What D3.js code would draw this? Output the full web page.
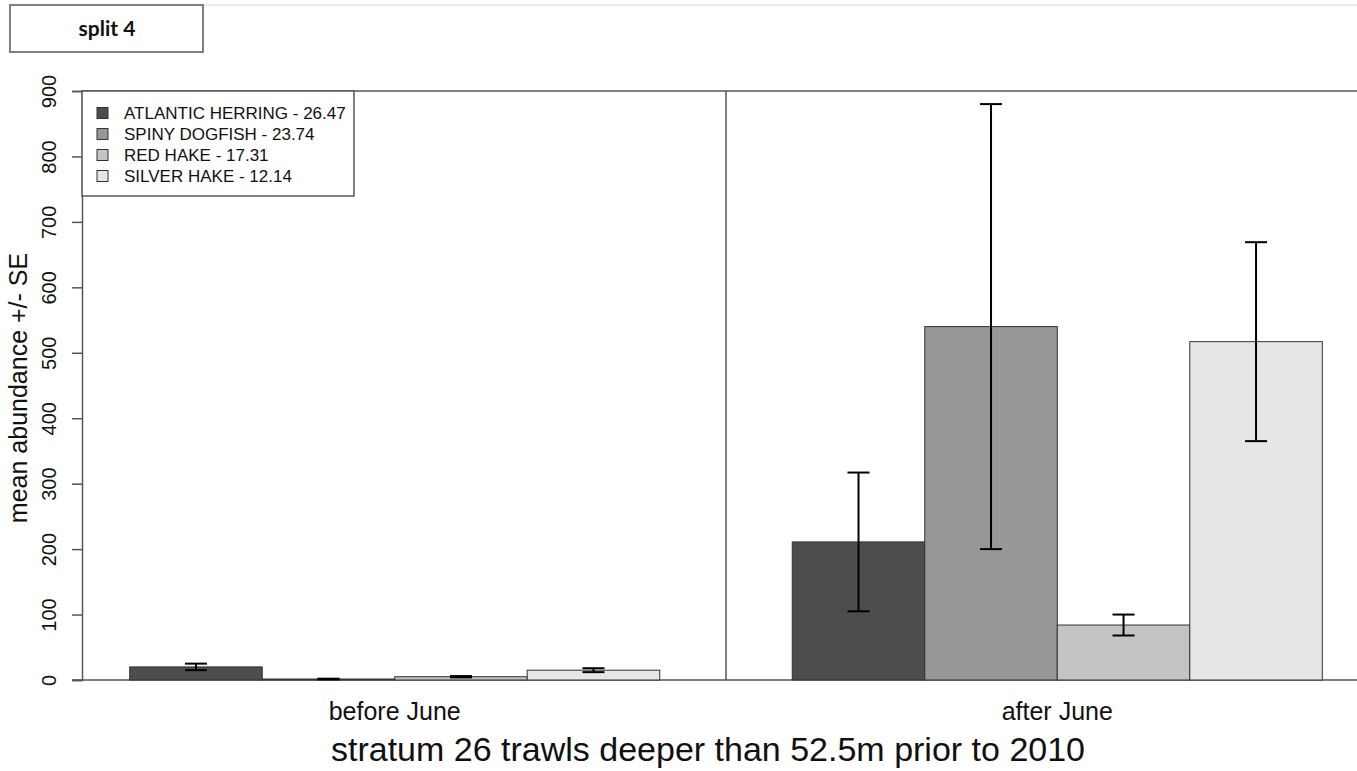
<!DOCTYPE html>
<html lang="en">
<head>
<meta charset="utf-8" />
<title>split 4</title>
<script src="https://cdn.jsdelivr.net/npm/d3@7/dist/d3.min.js"></script>
<style>
  body { margin: 0; background: #fff; }
  svg { display: block; font-family: "Liberation Sans", Arial, sans-serif; }
</style>
</head>
<body>
<div id="chart"></div>
<script>
// data
var periods = ["before June", "after June"];
var species = ["ATLANTIC HERRING - 26.47", "SPINY DOGFISH - 23.74", "RED HAKE - 17.31", "SILVER HAKE - 12.14"];
var beforeMeans = [20, 1.5, 5, 15];
var beforeSE = [5, 0.5, 1, 3];
var afterMeans = [211, 540, 84, 517];
var afterSE = [106, 340, 16, 152];
var yTicks = [0, 100, 200, 300, 400, 500, 600, 700, 800, 900];
var colors = ["#4D4D4D", "#979797", "#C4C4C4", "#E6E6E6"];

var width = 1357, height = 771;
var plotLeft = 82, plotRight = 1370, plotTop = 91, plotBottom = 680;

var svg = d3.select("#chart").append("svg")
  .attr("width", width)
  .attr("height", height);

// slide header box
svg.append("line")
  .attr("x1", 203).attr("x2", width).attr("y1", 5).attr("y2", 5)
  .attr("stroke", "#d9d9d9").attr("stroke-width", 1);
svg.append("rect")
  .attr("x", 10).attr("y", 5).attr("width", 193).attr("height", 47)
  .attr("fill", "#fff").attr("stroke", "#7f7f7f").attr("stroke-width", 2);
svg.append("text")
  .attr("x", 107).attr("y", 36)
  .attr("text-anchor", "middle")
  .style("font-family", "Lato, 'Open Sans', sans-serif")
  .style("font-weight", "bold").style("font-size", "21px")
  .attr("fill", "#111")
  .text("split 4");

// bar positions like R barplot(beside=TRUE): group 1 at 1..5, group 2 at 6..10
var x = d3.scaleLinear().domain([0.64, 10.36]).range([plotLeft, plotRight]);
var y = d3.scaleLinear().domain([0, 900]).range([plotBottom, plotTop]);

var bars = [];
[beforeMeans, afterMeans].forEach(function(means, g) {
  var ses = g === 0 ? beforeSE : afterSE;
  means.forEach(function(m, i) {
    bars.push({ g: g, i: i, pos: 1 + g * 5 + i, mean: m, se: ses[i] });
  });
});

// axes lines
svg.append("line")
  .attr("x1", plotLeft).attr("x2", width).attr("y1", plotTop).attr("y2", plotTop)
  .attr("stroke", "#555").attr("stroke-width", 1.5);
svg.append("line")
  .attr("x1", plotLeft - 10).attr("x2", width).attr("y1", plotBottom).attr("y2", plotBottom)
  .attr("stroke", "#555").attr("stroke-width", 1.5);
svg.append("line")
  .attr("x1", x(5.5)).attr("x2", x(5.5)).attr("y1", plotTop).attr("y2", plotBottom)
  .attr("stroke", "#555").attr("stroke-width", 1.5);

var yAxis = svg.append("g")
  .attr("transform", "translate(" + plotLeft + ",0)")
  .call(d3.axisLeft(y).tickValues(yTicks).tickSize(10).tickPadding(14));
yAxis.select(".domain").attr("stroke", "#555").attr("stroke-width", 1.5);
yAxis.selectAll(".tick line").attr("stroke", "#555").attr("stroke-width", 1.5);
yAxis.selectAll(".tick text")
  .attr("x", 0).attr("dy", 0)
  .attr("transform", "translate(-26,0) rotate(-90)")
  .attr("text-anchor", "middle")
  .attr("fill", "#111")
  .style("font-size", "20px").style("font-family", "Liberation Sans, Arial, sans-serif");

// bars
svg.append("g").selectAll("rect")
  .data(bars)
  .enter().append("rect")
  .attr("x", function(d) { return x(d.pos); })
  .attr("width", function(d) { return x(d.pos + 1) - x(d.pos); })
  .attr("y", function(d) { return y(d.mean); })
  .attr("height", function(d) { return y(0) - y(d.mean); })
  .attr("fill", function(d) { return colors[d.i]; })
  .attr("stroke", "#333").attr("stroke-width", 1);

// error bars
var err = svg.append("g").selectAll("g")
  .data(bars)
  .enter().append("g")
  .attr("stroke", "#000").attr("stroke-width", 2);
err.append("line")
  .attr("x1", function(d) { return x(d.pos + 0.5); })
  .attr("x2", function(d) { return x(d.pos + 0.5); })
  .attr("y1", function(d) { return y(d.mean - d.se); })
  .attr("y2", function(d) { return y(d.mean + d.se); });
[-1, 1].forEach(function(s) {
  err.append("line")
    .attr("x1", function(d) { return x(d.pos + 0.5) - 11; })
    .attr("x2", function(d) { return x(d.pos + 0.5) + 11; })
    .attr("y1", function(d) { return y(d.mean + s * d.se); })
    .attr("y2", function(d) { return y(d.mean + s * d.se); });
});

// group labels
svg.append("g").selectAll("text")
  .data(periods)
  .enter().append("text")
  .attr("x", function(d, i) { return x(3 + i * 5); })
  .attr("y", 720)
  .attr("text-anchor", "middle")
  .style("font-size", "25px").attr("fill", "#111")
  .text(function(d) { return d; });

// titles
svg.append("text")
  .attr("x", 708).attr("y", 761)
  .attr("text-anchor", "middle")
  .style("font-size", "34px").attr("fill", "#111")
  .text("stratum 26 trawls deeper than 52.5m prior to 2010");
svg.append("text")
  .attr("transform", "translate(27,388) rotate(-90)")
  .attr("text-anchor", "middle")
  .style("font-size", "25px").attr("fill", "#111")
  .text("mean abundance +/- SE");

// legend
var legend = svg.append("g");
legend.append("rect")
  .attr("x", plotLeft).attr("y", plotTop).attr("width", 272).attr("height", 105)
  .attr("fill", "#fff").attr("stroke", "#555").attr("stroke-width", 1.5);
var item = legend.selectAll("g.item")
  .data(species)
  .enter().append("g")
  .attr("class", "item")
  .attr("transform", function(d, i) { return "translate(97," + (113 + i * 21) + ")"; });
item.append("rect")
  .attr("x", 0).attr("y", -5.5).attr("width", 11).attr("height", 11)
  .attr("fill", function(d, i) { return colors[i]; })
  .attr("stroke", "#333").attr("stroke-width", 1);
item.append("text")
  .attr("x", 27).attr("y", 6)
  .style("font-size", "17px").attr("fill", "#111")
  .text(function(d) { return d; });
</script>
</body>
</html>
